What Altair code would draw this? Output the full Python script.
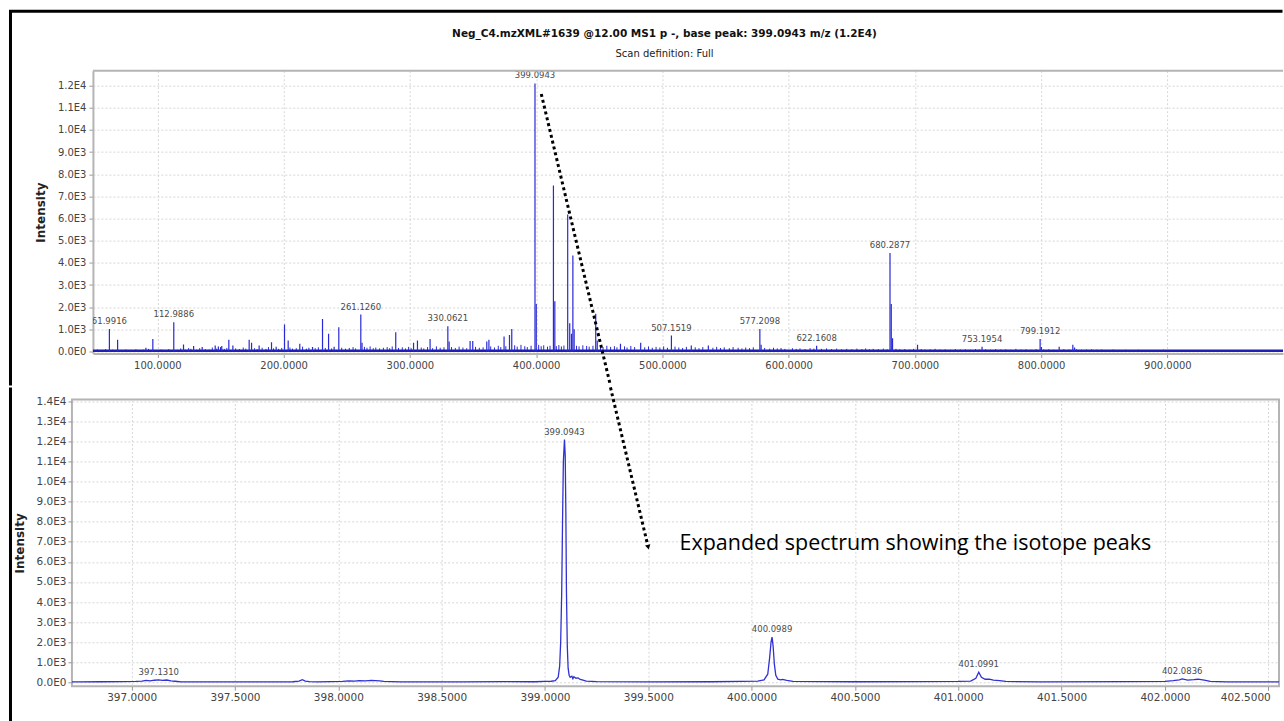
import altair as alt
import pandas as pd

TITLE = "Neg_C4.mzXML#1639 @12.00 MS1 p -, base peak: 399.0943 m/z (1.2E4)"
SUBTITLE = "Scan definition: Full"
NOTE = "Expanded spectrum showing the isotope peaks"

# ---------------- full scan (top panel): centroid sticks (m/z, intensity)
PEAKS = [
    (61.9916, 1020), (68.5, 530), (90.9, 170), (96.4, 570), (112.9886, 1320),
    (120.7, 320), (124.7, 150), (128.7, 250), (135.5, 200), (145.8, 270),
    (148.3, 230), (151.0, 250), (156.6, 530), (159.8, 270), (172.7, 530),
    (174.6, 400), (180.6, 270), (190.4, 420), (194.1, 220), (200.7, 1220),
    (203.6, 500), (212.8, 350), (222.9, 200), (230.8, 1470), (235.6, 800),
    (240.0, 220), (243.7, 1100), (261.1260, 1670), (262.1, 400), (288.8, 870),
    (302.9, 400), (306.0, 500), (316.0, 570), (330.0621, 1140), (331.1, 450),
    (347.7, 480), (349.8, 480), (360.9, 450), (362.6, 530), (374.6, 680),
    (378.9, 750), (380.7, 1020), (399.0943, 12100), (400.0989, 2150),
    (413.7, 7490), (414.8, 2270), (425.0, 6180), (426.6, 1280), (428.0, 800),
    (429.1, 4330), (430.1, 1000), (447.2, 1700), (448.4, 500), (466.8, 350),
    (482.8, 400), (507.1519, 720), (522.9, 270), (536.4, 270), (577.2098, 1020),
    (578.2, 300), (622.1608, 260), (680.2877, 4450), (681.29, 2150),
    (682.3, 600), (702.1, 300), (753.1954, 220), (799.1912, 570), (800.2, 200),
    (814.3, 220), (825.1, 300), (826.5, 180),
]

NOISE = [
    (52.5, 90), (56, 70), (59, 110), (64.5, 80), (71, 60), (75, 90), (79, 70),
    (83, 100), (86, 60), (89, 80), (93, 120), (99, 70), (103, 90), (106, 60),
    (109, 110), (116, 80), (118.5, 140), (122, 90), (126.5, 120), (131, 80),
    (133.5, 150), (138, 110), (141, 90), (143.5, 180), (147, 130), (150, 200),
    (153, 120), (155, 160), (162, 140), (165, 110), (168, 180), (170, 130),
    (177, 150), (179, 110), (183, 170), (186, 120), (188, 200), (192, 140),
    (196, 120), (198.5, 160), (205, 180), (207, 130), (210, 150), (215, 220),
    (218, 130), (220, 170), (225, 150), (227.5, 190), (233, 160), (238, 140),
    (246, 170), (249, 130), (252, 160), (255, 200), (257, 140), (264, 210),
    (266, 170), (268.5, 230), (271, 150), (273, 180), (276, 140), (279, 170),
    (282, 200), (284, 150), (286, 230), (291, 160), (294, 190), (296.5, 140),
    (299, 210), (301, 150), (309, 180), (311, 140), (314, 200), (318, 150),
    (321, 230), (324, 170), (327, 190), (333, 200), (336, 160), (339, 220),
    (342, 180), (345, 150), (352, 210), (355, 170), (358, 190), (364, 230),
    (367, 180), (370, 260), (372, 200), (376, 240), (383, 280), (385, 220),
    (388, 300), (391, 240), (393, 200), (396, 260), (402, 300), (404, 240),
    (406, 280), (409, 220), (411, 260), (416, 240), (418, 290), (420, 230),
    (422, 270), (432, 260), (434, 230), (437, 280), (440, 250), (442, 220),
    (445, 260), (451, 240), (453, 200), (456, 260), (459, 210), (462, 240),
    (464, 190), (470, 230), (472, 180), (475, 250), (478, 200), (486, 190),
    (489, 230), (492, 170), (495, 210), (498, 180), (501, 230), (504, 170),
    (510, 220), (513, 180), (516, 160), (519, 210), (526, 190), (529, 150),
    (532, 200), (540, 170), (543, 210), (546, 160), (549, 190), (553, 150),
    (556, 200), (560, 170), (563, 140), (566, 180), (569, 150), (572, 190),
    (581, 160), (585, 130), (588, 170), (591, 140), (594, 160), (597, 120),
    (603, 150), (606, 120), (609, 140), (613, 110), (617, 150), (620, 130),
    (626, 120), (630, 140), (634, 110), (638, 130), (642, 100), (646, 120),
    (650, 100), (654, 130), (658, 110), (661, 140), (664, 100), (667, 120),
    (671, 110), (675, 130), (678, 100), (685, 120), (688, 100), (692, 110),
    (696, 90), (699, 120), (705, 110), (708, 90), (712, 100), (716, 120),
    (720, 90), (724, 100), (728, 80), (732, 110), (736, 90), (740, 100),
    (744, 80), (748, 110), (751, 90), (756, 100), (760, 80), (764, 110),
    (768, 90), (772, 100), (776, 80), (780, 120), (784, 90), (788, 100),
    (792, 80), (796, 110), (802, 90), (806, 100), (810, 80), (818, 110),
    (822, 90), (828, 100), (832, 80), (836, 90), (840, 100), (844, 80),
    (848, 90), (852, 70), (857, 90), (862, 70), (867, 80), (872, 60),
    (877, 80), (882, 60), (887, 70), (892, 60), (897, 80), (902, 60),
    (907, 70), (912, 60), (917, 70), (922, 50), (927, 70), (932, 60),
    (937, 70), (942, 50), (947, 60), (952, 70), (957, 50), (962, 60),
    (967, 50), (972, 60), (977, 50), (982, 60), (987, 50),
]
NOISE_FLOOR = 40

TOP_LABELS = ["61.9916", "112.9886", "261.1260", "330.0621", "399.0943",
              "507.1519", "577.2098", "622.1608", "680.2877", "753.1954",
              "799.1912"]
TOP_LABEL_INT = [1020, 1320, 1670, 1140, 12100, 720, 1020, 260, 4450, 220, 570]

# ---------------- expanded profile (bottom panel)
PROFILE = [
    (396.711, 20), (396.75, 20), (396.85, 25), (396.95, 30), (397.02, 40),
    (397.05, 60), (397.07, 90), (397.09, 70), (397.11, 100), (397.13, 120),
    (397.15, 90), (397.17, 110), (397.19, 70), (397.21, 50), (397.24, 20),
    (397.4, 20), (397.6, 20), (397.78, 25), (397.81, 60), (397.826, 130),
    (397.84, 60), (397.86, 30), (397.9, 20), (398.02, 40), (398.05, 70),
    (398.08, 60), (398.1, 80), (398.13, 70), (398.16, 90), (398.2, 70),
    (398.22, 40), (398.3, 20), (398.6, 20), (398.8, 30), (398.95, 25),
    (399.0, 40), (399.03, 50), (399.05, 80), (399.064, 250), (399.071, 800),
    (399.076, 2000), (399.081, 4500), (399.085, 8000), (399.089, 11000),
    (399.0943, 12100), (399.098, 11300), (399.101, 8500), (399.104, 4500),
    (399.108, 1800), (399.112, 700), (399.117, 350), (399.122, 250),
    (399.13, 300), (399.135, 180), (399.14, 280), (399.15, 200), (399.16, 220),
    (399.17, 140), (399.18, 120), (399.2, 60), (399.25, 30), (399.5, 20),
    (399.8, 25), (399.95, 40), (400.03, 60), (400.06, 120), (400.078, 400),
    (400.087, 1200), (400.094, 2000), (400.0989, 2250), (400.104, 1800),
    (400.11, 900), (400.117, 350), (400.127, 150), (400.14, 120), (400.15, 140),
    (400.17, 90), (400.2, 40), (400.5, 25), (400.8, 30), (401.0, 40),
    (401.06, 60), (401.085, 200), (401.0991, 500), (401.112, 250),
    (401.13, 150), (401.15, 160), (401.17, 110), (401.2, 80), (401.23, 40),
    (401.4, 20), (401.8, 30), (402.0, 40), (402.04, 80), (402.07, 120),
    (402.0836, 170), (402.11, 110), (402.14, 130), (402.16, 150),
    (402.19, 100), (402.22, 40), (402.3, 20), (402.552, 20),
]
BOT_LABELS = ["397.1310", "399.0943", "400.0989", "401.0991", "402.0836"]
BOT_LABEL_INT = [120, 12100, 2250, 500, 170]

# dotted annotation arrow: upper part in full-scan data units, lower part in
# expanded-spectrum data units (start m/z, end m/z, start intensity, end intensity)
ARROW_TOP = [(404.08, 458.84, 11624, -1534)]
ARROW_BOT = [(399.3169, 399.4939, 14699, 6976)]
ARROW_TIP = [(399.4987, 6776)]
NOTE_POS = [(399.651, 6876)]

TOP_X_TICKS = [100, 200, 300, 400, 500, 600, 700, 800, 900]
TOP_Y_TICKS = [0, 1000, 2000, 3000, 4000, 5000, 6000, 7000, 8000, 9000,
               10000, 11000, 12000]
BOT_X_TICKS = [397.0, 397.5, 398.0, 398.5, 399.0, 399.5, 400.0, 400.5,
               401.0, 401.5, 402.0, 402.5]
BOT_Y_TICKS = [0, 1000, 2000, 3000, 4000, 5000, 6000, 7000, 8000, 9000,
               10000, 11000, 12000, 13000, 14000]

BLUE = "#2929d6"
GRAY = "#b4b4b4"
FONT = "DejaVu Sans"
SCI = ("datum.value == 0 ? '0.0E0' : format(datum.value / pow(10, floor(log(datum.value) / LN10 + 0.000001)), '.1f')"
       " + 'E' + floor(log(datum.value) / LN10 + 0.000001)")

# ---------------- frames
peaks_df = pd.DataFrame(PEAKS, columns=["mz", "intensity"]).assign(base=0)
noise_df = pd.DataFrame(NOISE, columns=["mz", "intensity"]).assign(base=0)
floor_df = pd.DataFrame({"mz": [48.95, 991.57], "intensity": [NOISE_FLOOR, NOISE_FLOOR]})
toplab_df = pd.DataFrame({"mz": [float(t) for t in TOP_LABELS], "intensity": TOP_LABEL_INT, "label": TOP_LABELS})
arrow_top_df = pd.DataFrame(ARROW_TOP, columns=["mz", "mz2", "intensity", "intensity2"])
arrow_bot_df = pd.DataFrame(ARROW_BOT, columns=["mz", "mz2", "intensity", "intensity2"])
tip_df = pd.DataFrame(ARROW_TIP, columns=["mz", "intensity"])
prof_df = pd.DataFrame(PROFILE, columns=["mz", "intensity"])
botlab_df = pd.DataFrame({"mz": [float(t) for t in BOT_LABELS], "intensity": BOT_LABEL_INT, "label": BOT_LABELS})
note_df = pd.DataFrame(NOTE_POS, columns=["mz", "intensity"]).assign(label=NOTE)
one = pd.DataFrame({"k": [0]})

tx = alt.Scale(domain=[48.95, 991.57], nice=False, zero=False)
ty = alt.Scale(domain=[-90, 12675], nice=False, zero=False)
bx = alt.Scale(domain=[396.711, 402.552], nice=False, zero=False)
by = alt.Scale(domain=[-200, 14100], nice=False, zero=False)

top_xaxis = alt.Axis(title=None, values=TOP_X_TICKS, format=".4f", labelFontSize=10,
                     labelFlush=False, labelOverlap=False, labelPadding=3,
                     domain=True, domainColor=GRAY, domainWidth=2)
top_yaxis = alt.Axis(title="Intensity", values=TOP_Y_TICKS, tickCount=13, labelExpr=SCI,
                     labelFontSize=10, labelOverlap=False, titleFontSize=12, titlePadding=10,
                     labelPadding=3, domain=True, domainColor=GRAY, domainWidth=2)
bot_xaxis = alt.Axis(title=None, values=BOT_X_TICKS, format=".4f", labelFontSize=10.5,
                     labelFlush=12, labelFlushOffset=2, labelOverlap=False, labelPadding=2)
bot_yaxis = alt.Axis(title="Intensity", values=BOT_Y_TICKS, tickCount=15, labelExpr=SCI,
                     labelFontSize=10.5, labelOverlap=False, titleFontSize=12, titlePadding=9,
                     labelPadding=2)


def TX():
    return alt.X("mz:Q", scale=tx, axis=top_xaxis)


def TY():
    return alt.Y("intensity:Q", scale=ty, axis=top_yaxis)


def BX():
    return alt.X("mz:Q", scale=bx, axis=bot_xaxis)


def BY():
    return alt.Y("intensity:Q", scale=by, axis=bot_yaxis)


noise_layer = alt.Chart(noise_df).mark_rule(color=BLUE, strokeWidth=1, clip=True).encode(
    x=TX(), y=TY(), y2="base:Q")
floor_layer = alt.Chart(floor_df).mark_line(color="#1f1fb8", strokeWidth=2.5, clip=True).encode(
    x=TX(), y=TY())
peak_layer = alt.Chart(peaks_df).mark_rule(color=BLUE, strokeWidth=1.2, clip=True).encode(
    x=TX(), y=TY(), y2="base:Q")
toplab_layer = alt.Chart(toplab_df).mark_text(
    font=FONT, fontSize=8.5, color="#4a4a4a", baseline="bottom", dy=-3, clip=True
).encode(x=TX(), y=TY(), text="label:N")
arrow_top = alt.Chart(arrow_top_df).mark_rule(color="black", strokeWidth=3, strokeDash=[3, 3]).encode(
    x=TX(), x2="mz2:Q", y=TY(), y2="intensity2:Q")

top_edge = alt.Chart(one).mark_rule(color=GRAY, strokeWidth=2).encode(
    x=alt.value(0), x2=alt.value(1191), y=alt.value(0))
frame_h = alt.Chart(one).mark_rule(color="black", strokeWidth=3).encode(
    x=alt.value(-81), x2=alt.value(1190.5), y=alt.value(-59.5))
frame_v_top = alt.Chart(one).mark_rule(color="black", strokeWidth=3).encode(
    x=alt.value(-82.5), y=alt.value(-61), y2=alt.value(315))
title_t = alt.Chart(one).mark_text(font=FONT, fontSize=10.5, fontWeight="bold", color="#111",
                                   baseline="middle", align="center").encode(
    x=alt.value(572), y=alt.value(-36.7), text=alt.value(TITLE))
sub_t = alt.Chart(one).mark_text(font=FONT, fontSize=10, color="#222",
                                 baseline="middle", align="center").encode(
    x=alt.value(572), y=alt.value(-16.7), text=alt.value(SUBTITLE))

top = alt.layer(noise_layer, floor_layer, peak_layer, toplab_layer, arrow_top, top_edge,
                frame_h, frame_v_top, title_t, sub_t).properties(
    width=1191, height=283, view=alt.ViewBackground(strokeOpacity=0))

spacer = alt.Chart(one).mark_rule(opacity=0).encode(x=alt.value(0), y=alt.value(0)).properties(
    width=1, height=1, view=alt.ViewBackground(strokeOpacity=0))

prof_layer = alt.Chart(prof_df).mark_line(color="#3030d4", strokeWidth=1.3, clip=True).encode(
    x=BX(), y=BY())
botlab_layer = alt.Chart(botlab_df).mark_text(
    font=FONT, fontSize=8.5, color="#4a4a4a", baseline="bottom", dy=-3, clip=True
).encode(x=BX(), y=BY(), text="label:N")
arrow_bot = alt.Chart(arrow_bot_df).mark_rule(color="black", strokeWidth=3, strokeDash=[3, 3]).encode(
    x=BX(), x2="mz2:Q", y=BY(), y2="intensity2:Q")
arrow_tip = alt.Chart(tip_df).mark_point(
    shape="triangle", filled=True, color="black", opacity=1, size=30, angle=166.6
).encode(x=BX(), y=BY())
note_layer = alt.Chart(note_df).mark_text(
    font="Open Sans", fontSize=21.5, color="black", align="left", baseline="middle"
).encode(x=BX(), y=BY(), text="label:N")
frame_v_bot = alt.Chart(one).mark_rule(color="black", strokeWidth=3).encode(
    x=alt.value(-61.5), y=alt.value(-12), y2=alt.value(322.5))

bottom = alt.layer(prof_layer, botlab_layer, arrow_bot, arrow_tip, note_layer,
                   frame_v_bot).properties(width=1208, height=287)

top_row = alt.hconcat(spacer, top, spacing=-64)
chart = alt.vconcat(top_row, bottom, spacing=-3).properties(
    padding={"left": 8, "top": 7.5, "right": 0, "bottom": 0},
    background="white",
).configure_view(
    stroke=GRAY, strokeWidth=2
).configure_axis(
    labelFont=FONT, labelColor="#444", tickColor="#999", tickSize=4,
    gridColor="#d6d6d6", gridDash=[2, 2], gridWidth=1, domain=False,
    titleFont=FONT, titleFontWeight="bold", titleColor="#222",
)

chart.save("out.html", embed_options={"renderer": "svg", "actions": False})
